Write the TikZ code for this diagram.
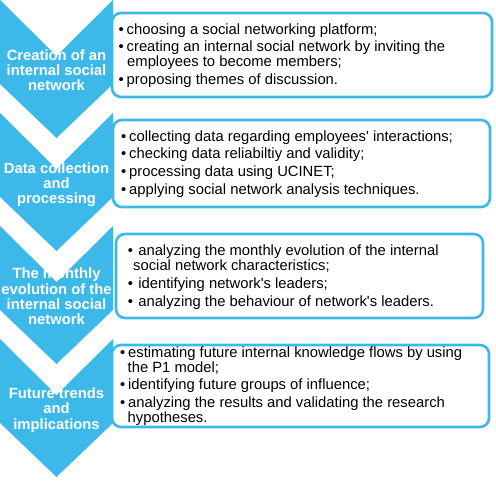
\documentclass[tikz,border=0pt]{standalone}
\usepackage{fontspec}
\setmainfont{Liberation Sans}[Ligatures=TeXOff]
\definecolor{chev}{RGB}{60,185,232}
\newcommand\bul{\makebox[8pt][l]{•}}
\newcommand\bulw{\makebox[10.5pt][l]{•}}
\newcommand\chevshape[1]{\fill[chevron] (0,#1) -- (56.5,{#1+56}) -- (113,#1) -- (113,{#1+84}) -- (56.5,{#1+138}) -- (0,{#1+84}) -- cycle;}
\begin{document}
\begin{tikzpicture}[x=1pt,y=-1pt,
  chevron/.style={fill=chev},
  itembox/.style={draw=chev, line width=2.6pt, fill=white, rounded corners=9pt, anchor=north west, inner sep=0pt, outer sep=0pt},
  chevtext/.style={text=white, font=\fontsize{14.8}{15.2}\selectfont\bfseries, align=center, inner sep=0pt},
  itemline/.style={anchor=base west, inner sep=0pt, font=\fontsize{14.8}{15}\selectfont, text=black}]
\useasboundingbox (0,0) rectangle (496,482);
% chevrons
\chevshape{0}
\chevshape{113}
\chevshape{226}
\chevshape{339}
% boxes
\node[itembox, minimum width=380pt, minimum height=84pt] (box1) at (112,13) {};
\node[itembox, minimum width=377pt, minimum height=87pt] (box2) at (113,120) {};
\node[itembox, minimum width=367pt, minimum height=84pt] (box3) at (116,234) {};
\node[itembox, minimum width=377pt, minimum height=82pt] (box4) at (112,345) {};
% chevron texts
\node[chevtext] (c1) at (56.5,70.5) {Creation of an\\internal social\\network};
\node[chevtext] (c2) at (56.5,185) {Data collection\\and\\processing};
\node[chevtext] (c3) at (56.5,296.5) {The monthly\\evolution of the\\internal social\\network};
\node[chevtext] (c4) at (56.5,410) {Future trends\\and\\implications};
% box 1
\node[itemline] (b1a) at (118.5,34) {\bul choosing a social networking platform;};
\node[itemline] (b1b) at (118.5,51) {\bul creating an internal social network by inviting the};
\node[itemline] (b1c) at (127,66) {employees to become members;};
\node[itemline] (b1d) at (118.5,84) {\bul proposing themes of discussion.};
% box 2
\node[itemline] (b2a) at (121,141) {\bul collecting data regarding employees' interactions;};
\node[itemline] (b2b) at (121,158) {\bul checking data reliabiltiy and validity;};
\node[itemline] (b2c) at (121,176) {\bul processing data using UCINET;};
\node[itemline] (b2d) at (121,194) {\bul applying social network analysis techniques.};
% box 3
\node[itemline] (b3a) at (127.6,255) {\bulw analyzing the monthly evolution of the internal};
\node[itemline] (b3b) at (133,270) {social network characteristics;};
\node[itemline] (b3c) at (127.6,288) {\bulw identifying network's leaders;};
\node[itemline] (b3d) at (127.6,306) {\bulw analyzing the behaviour of network's leaders.};
% box 4
\node[itemline] (b4a) at (120,357) {\bul estimating future internal knowledge flows by using};
\node[itemline] (b4b) at (127.5,372) {the P1 model;};
\node[itemline] (b4c) at (120,389) {\bul identifying future groups of influence;};
\node[itemline] (b4d) at (120,407) {\bul analyzing the results and validating the research};
\node[itemline] (b4e) at (127.5,422) {hypotheses.};
\end{tikzpicture}
\end{document}
